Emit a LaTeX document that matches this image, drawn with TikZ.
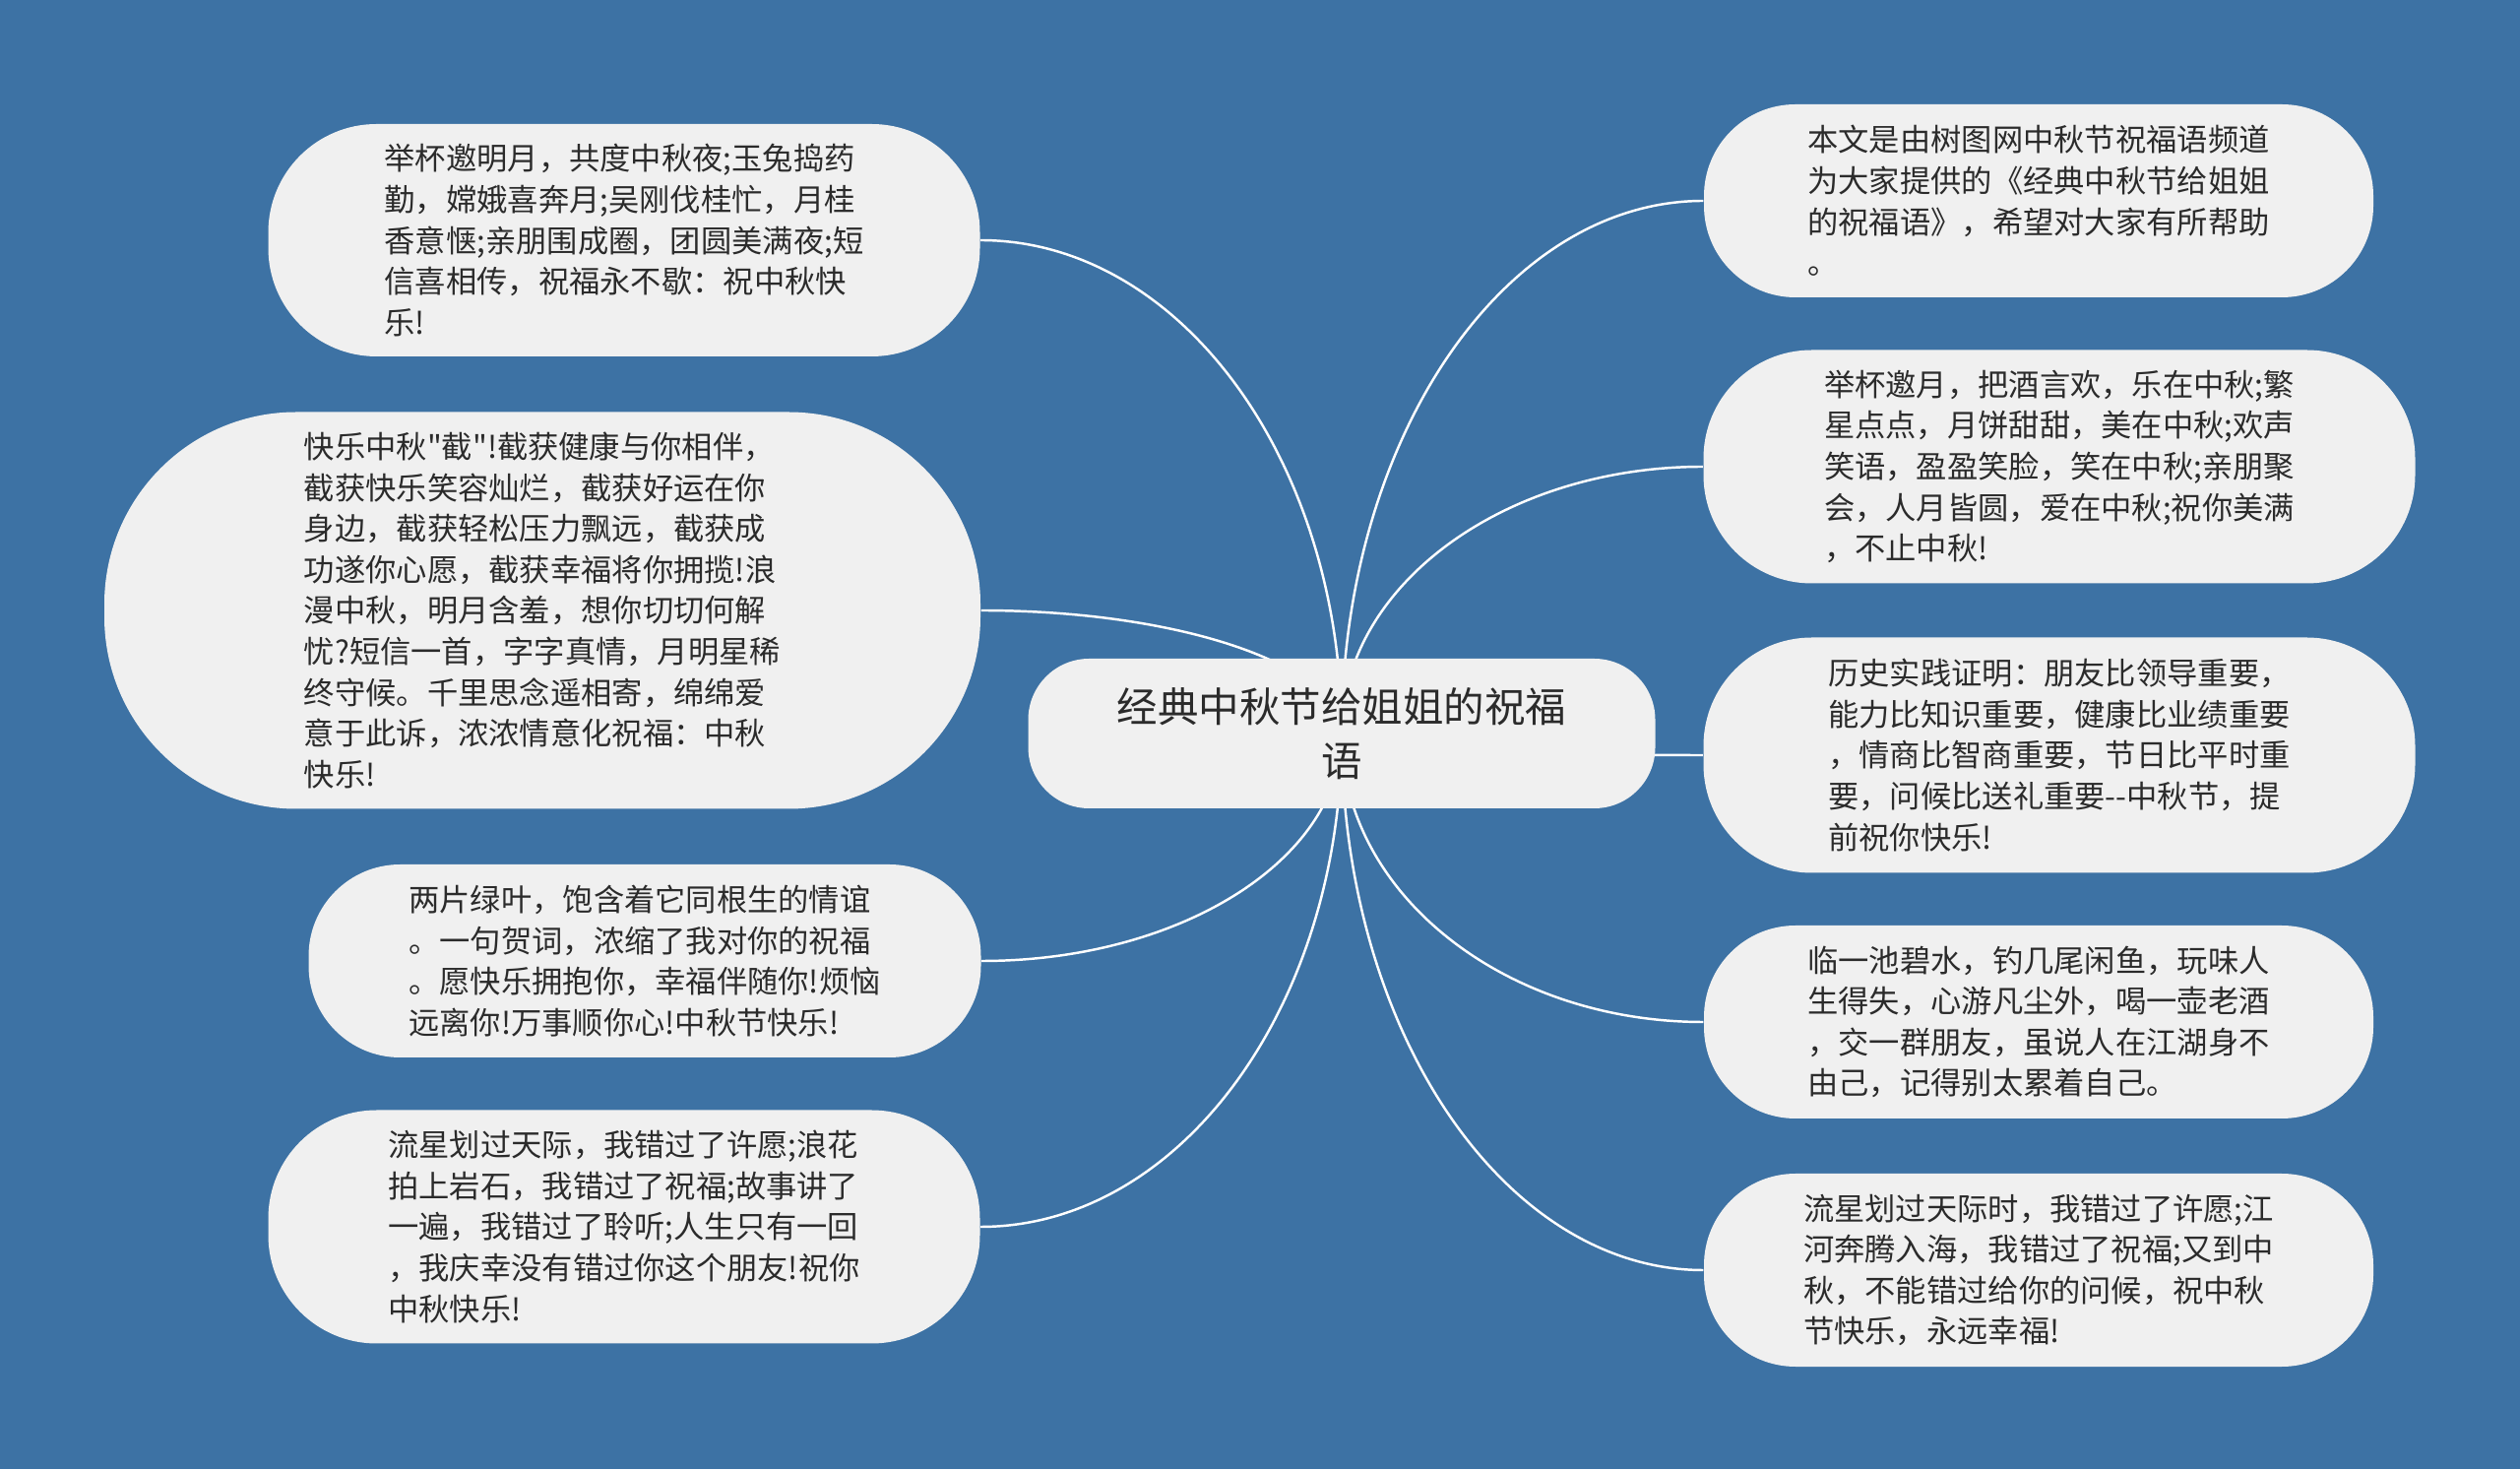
\documentclass[tikz,border=0pt]{standalone}
\usepackage{fontspec}
\setmainfont{Noto Sans CJK SC}[Ligatures=TeXOff]
\usepackage{xcolor}
\usetikzlibrary{calc, backgrounds}
\definecolor{bgblue}{HTML}{3D72A4}
\definecolor{leaf}{HTML}{F0F0F0}
\definecolor{ink}{HTML}{2B2B2B}
\tikzstyle{topic} = [rectangle, rounded corners=0.62cm, minimum width=6.37cm, minimum height=1.52cm, align=center, fill=leaf, text=ink, font=\fontsize{11.8pt}{15.8pt}\selectfont]
\tikzstyle{wish} = [rectangle, align=left, inner sep=0pt, fill=leaf, text=ink, font=\fontsize{8.9pt}{11.84pt}\selectfont]
\tikzstyle{branch} = [draw=white, line width=0.7pt]

\begin{document}
\begin{tikzpicture}[x=1cm, y=1cm]
  \useasboundingbox (0,0) rectangle (25.60,14.92);
  % ---------- centre ----------
  \node[topic] (title) at (13.63, 7.47) {经典中秋节给姐姐的祝福\\语};
  % ---------- left column ----------
  \node[wish, minimum width=7.23cm, minimum height=2.36cm, rounded corners=1.1cm] (l1) at (6.34, 12.48)
    {举杯邀明月，共度中秋夜;玉兔捣药\\勤，嫦娥喜奔月;吴刚伐桂忙，月桂\\香意惬;亲朋围成圈，团圆美满夜;短\\信喜相传，祝福永不歇：祝中秋快\\乐!};
  \node[wish, minimum width=8.90cm, minimum height=4.03cm, rounded corners=1.95cm] (l2) at (5.51, 8.72)
    {快乐中秋"截"!截获健康与你相伴，\\截获快乐笑容灿烂，截获好运在你\\身边，截获轻松压力飘远，截获成\\功遂你心愿，截获幸福将你拥揽!浪\\漫中秋，明月含羞，想你切切何解\\忧?短信一首，字字真情，月明星稀\\终守候。千里思念遥相寄，绵绵爱\\意于此诉，浓浓情意化祝福：中秋\\快乐!};
  \node[wish, minimum width=6.83cm, minimum height=1.96cm, rounded corners=0.93cm] (l3) at (6.55, 5.16)
    {两片绿叶，饱含着它同根生的情谊\\。一句贺词，浓缩了我对你的祝福\\。愿快乐拥抱你，幸福伴随你!烦恼\\远离你!万事顺你心!中秋节快乐!};
  \node[wish, minimum width=7.23cm, minimum height=2.37cm, rounded corners=1.1cm] (l4) at (6.34, 2.46)
    {流星划过天际，我错过了许愿;浪花\\拍上岩石，我错过了祝福;故事讲了\\一遍，我错过了聆听;人生只有一回\\，我庆幸没有错过你这个朋友!祝你\\中秋快乐!};
  % ---------- right column ----------
  \node[wish, minimum width=6.80cm, minimum height=1.96cm, rounded corners=0.93cm] (r1) at (20.71, 12.88)
    {本文是由树图网中秋节祝福语频道\\为大家提供的《经典中秋节给姐姐\\的祝福语》，希望对大家有所帮助\\。};
  \node[wish, minimum width=7.23cm, minimum height=2.37cm, rounded corners=1.1cm] (r2) at (20.92, 10.18)
    {举杯邀月，把酒言欢，乐在中秋;繁\\星点点，月饼甜甜，美在中秋;欢声\\笑语，盈盈笑脸，笑在中秋;亲朋聚\\会，人月皆圆，爱在中秋;祝你美满\\，不止中秋!};
  \node[wish, minimum width=7.23cm, minimum height=2.39cm, rounded corners=1.1cm] (r3) at (20.92, 7.25)
    {历史实践证明：朋友比领导重要，\\能力比知识重要，健康比业绩重要\\，情商比智商重要，节日比平时重\\要，问候比送礼重要--中秋节，提\\前祝你快乐!};
  \node[wish, minimum width=6.80cm, minimum height=1.96cm, rounded corners=0.93cm] (r4) at (20.71, 4.54)
    {临一池碧水，钓几尾闲鱼，玩味人\\生得失，心游凡尘外，喝一壶老酒\\，交一群朋友，虽说人在江湖身不\\由己，记得别太累着自己。};
  \node[wish, minimum width=6.80cm, minimum height=1.96cm, rounded corners=0.93cm] (r5) at (20.71, 2.02)
    {流星划过天际时，我错过了许愿;江\\河奔腾入海，我错过了祝福;又到中\\秋，不能错过给你的问候，祝中秋\\节快乐，永远幸福!};
  % ---------- background and branches ----------
  \begin{scope}[on background layer]
    \fill[bgblue] (0,0) rectangle (25.60,14.92);
    \foreach \p in {l1.east, l2.east, l3.east, l4.east, r1.west, r2.west, r3.west, r4.west, r5.west}
      \draw[branch] (title.center) .. controls ($(title.center)!0.552!(title.center |- \p)$)
        and ($(\p)!0.552!(title.center |- \p)$) .. (\p);
  \end{scope}
\end{tikzpicture}
\end{document}
